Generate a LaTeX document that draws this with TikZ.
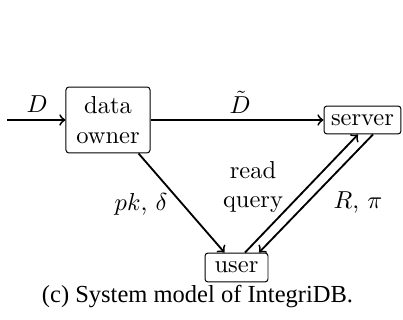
\documentclass[tikz,border=0pt]{standalone}
\usepackage{fontspec}
\newfontfamily\capfont{Liberation Serif}
\begin{document}
\begin{tikzpicture}[x=0.408pt,y=-0.408pt,
  party/.style={draw, line width=0.4pt, rounded corners=1.2pt, inner sep=0pt, align=center},
  flow/.style={->, line width=0.75pt},
  lbl/.style={inner sep=0pt, align=center}]
  \useasboundingbox (0,0) rectangle (403,320);

  % parties
  \node[party, minimum width=34.3pt, minimum height=26.9pt] (owner) at (108,120) {data\\owner};
  \node[party, minimum width=31.4pt, minimum height=11.4pt] (server) at (362.5,120) {server};
  \node[party, minimum width=25.7pt, minimum height=11.8pt] (user) at (236.5,267.5) {user};

  % data input
  \coordinate (src) at (7,120);
  \draw[flow] (src) -- (owner);
  \node[lbl] (lD) at (37,104) {$D$};

  % outsourced data
  \draw[flow] (owner) -- (server);
  \node[lbl] (lDt) at (240,102) {$\tilde{D}$};

  % public key and digest
  \draw[flow] ([shift={(-12,0)}]owner.south east) -- ([shift={(-12,0)}]user.north);
  \node[lbl] (lpk) at (141,204) {$pk$, $\delta$};

  % query and response
  \draw[flow] ([shift={(8.5,0)}]user.north) -- ([shift={(-4.5,0)}]server.south);
  \draw[flow] ([shift={(10.5,0)}]server.south) -- ([shift={(22.5,0)}]user.north);
  \node[lbl] (lq) at (253,187) {read\\query};
  \node[lbl] (lR) at (358,202) {$R$, $\pi$};

  % caption
  \node[lbl] (cap) at (197.5,297) {\capfont (c) System model of IntegriDB.};
\end{tikzpicture}
\end{document}
